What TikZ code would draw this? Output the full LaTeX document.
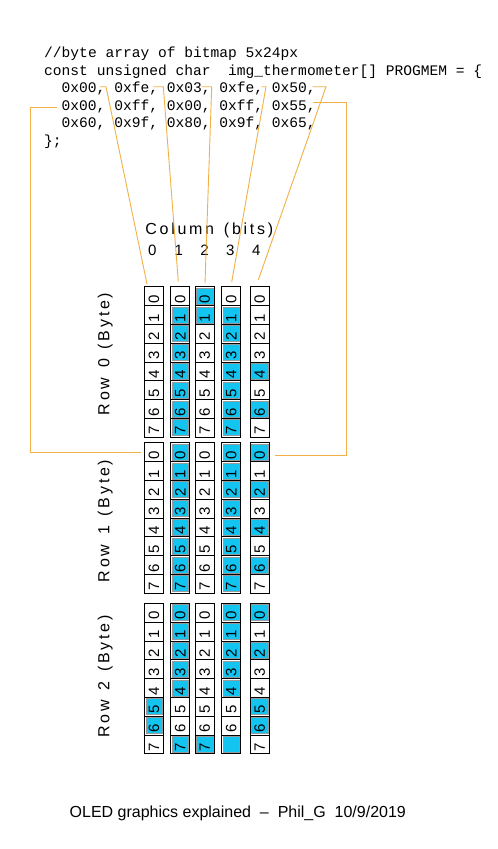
\documentclass[tikz,border=0pt]{standalone}
\usepackage{fontspec}
\setmainfont{Liberation Sans}
\newfontfamily\codefont{Liberation Mono}
\newfontfamily\spacedfont[LetterSpace=17]{Liberation Sans}
\newcommand\wsp{\ \kern2.7pt\relax}
\definecolor{bitblue}{RGB}{20,196,240}
\definecolor{wirecol}{RGB}{242,176,70}
\begin{document}
\begin{tikzpicture}[x=1pt,y=-1pt,
  codeline/.style={anchor=base west,inner sep=0,font=\codefont\fontsize{14.6}{17.5}\selectfont},
  cell/.style={draw=black,line width=0.8pt,minimum width=19pt,minimum height=18.8pt,inner sep=0,outer sep=0},
  fillbox/.style={fill=bitblue,draw=black!40,line width=0.5pt,minimum width=16.2pt,minimum height=16pt,inner sep=0},
  digit/.style={rotate=90,inner sep=0,font=\fontsize{15}{18}\selectfont},
  rowlabel/.style={rotate=90,anchor=base,inner sep=0,font=\spacedfont\fontsize{16}{19}\selectfont},
  wire/.style={draw=wirecol,line width=0.9pt}]
\fill[white] (0,0) rectangle (498,849);
\useasboundingbox (0,0) rectangle (498,849);
% code
\node[codeline] (l1) at (44,57.5) {//byte array of bitmap 5x24px};
\node[codeline] (l2) at (44,75) {const unsigned char\ \ img\_thermometer[] PROGMEM = \{};
\node[codeline] (l3) at (61.5,92.5) {0x00, 0xfe, 0x03, 0xfe, 0x50,};
\node[codeline] (l4) at (61.5,110) {0x00, 0xff, 0x00, 0xff, 0x55,};
\node[codeline] (l5) at (61.5,127.5) {0x60, 0x9f, 0x80, 0x9f, 0x65,};
\node[codeline] (l6) at (44,145) {\};};
% header
\node[anchor=base west,inner sep=0,font=\spacedfont\fontsize{16}{19}\selectfont] (colhead) at (145.2,234.3) {Column\wsp(bits)};
\foreach \c/\x in {0/152.2,1/178.7,2/204.5,3/230.3,4/256.2}
  \node[anchor=base,inner sep=0,font=\fontsize{15}{18}\selectfont] (h\c) at (\x,255) {\c};
% cells
\foreach \r/\t in {0/286.7,1/442.7,2/603.3}
 \foreach \c/\l in {0/144.5,1/170.8,2/195.2,3/221.8,4/250.2}
  \foreach \b in {0,...,7}
   \node[cell] (r\r c\c b\b) at ({\l+9.5},{\t+(\b+0.5)*18.8}) {};
% fills
\foreach \r/\c/\bits in {0/1/{1,2,3,4,5,6,7},0/2/{0,1},0/3/{1,2,3,4,5,6,7},0/4/{4,6},
  1/1/{0,1,2,3,4,5,6,7},1/3/{0,1,2,3,4,5,6,7},1/4/{0,2,4,6},
  2/0/{5,6},2/1/{0,1,2,3,4,7},2/2/{7},2/3/{0,1,2,3,4,7},2/4/{0,2,5,6}}
  \foreach \b in \bits
   \node[fillbox] (f\r c\c b\b) at (r\r c\c b\b.center) {};
% digits
\foreach \r in {0,1,2}
 \foreach \c in {0,...,4}
  \foreach \b in {0,...,7}{
   \ifnum\r\c\b=237 \else
   \node[digit] (d\r c\c b\b) at ([yshift=-3pt]r\r c\c b\b.center) {\b};
   \fi}
% row labels
\node[rowlabel] (row0) at (109.3,354) {Row\wsp 0\wsp(Byte)};
\node[rowlabel] (row1) at (109.3,521) {Row\wsp 1\wsp(Byte)};
\node[rowlabel] (row2) at (109.3,676.5) {Row\wsp 2\wsp(Byte)};
% connectors
\coordinate (a1) at (100,86.7); \coordinate (b1) at (106,86.7); \coordinate (e1) at (147,284);
\coordinate (a2) at (153.3,86.7); \coordinate (b2) at (163.3,86.7); \coordinate (e2) at (178.3,281.7);
\coordinate (a3) at (201.7,86.7); \coordinate (b3) at (211.7,86.7); \coordinate (e3) at (205,283);
\coordinate (a4) at (261.7,86.7); \coordinate (b4) at (266,86.7); \coordinate (e4) at (231.7,282);
\coordinate (a5) at (312.7,86.7); \coordinate (b5) at (326,86.7); \coordinate (e5) at (258.3,280);
\foreach \i in {1,...,5} \draw[wire] (a\i) -- (b\i) -- (e\i);
\coordinate (a6) at (56.7,107.3); \coordinate (k6) at (30,107.3); \coordinate (e6) at (141,452.7);
\draw[wire] (a6) -- (k6) |- (e6);
\coordinate (a7) at (313,102); \coordinate (k7) at (346.5,102); \coordinate (e7) at (275,455.7);
\draw[wire] (a7) -- (k7) |- (e7);
% footer
\node[anchor=base west,inner sep=0,font=\fontsize{16}{19}\selectfont] (footer) at (69.5,817.3) {OLED graphics explained\ \ –\ \ Phil\_G\ \ 10/9/2019};
\end{tikzpicture}
\end{document}
